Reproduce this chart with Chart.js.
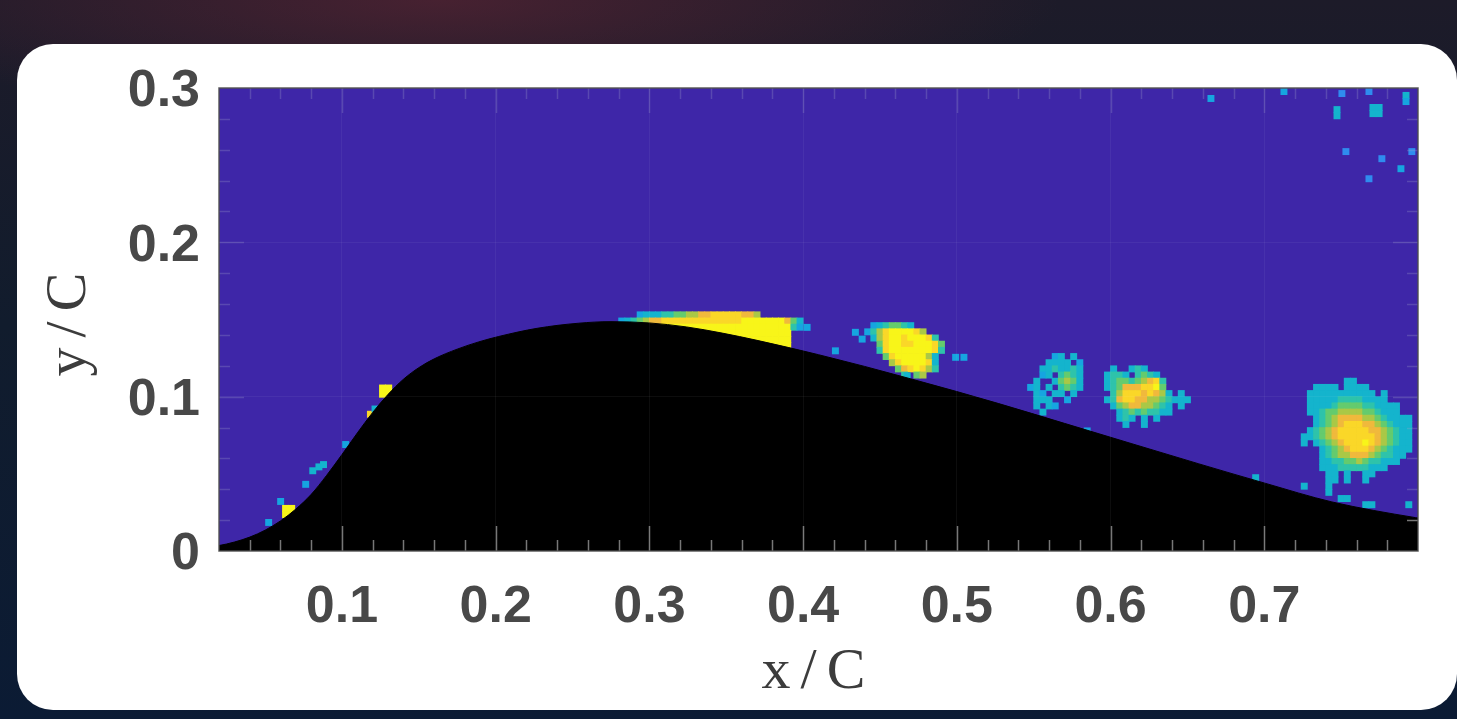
<!DOCTYPE html>
<html>
<head>
<meta charset="utf-8">
<title>Hump flow field</title>
<script src="https://cdn.jsdelivr.net/npm/chart.js@4/dist/chart.umd.min.js"></script>
<style>
  html, body { margin: 0; padding: 0; width: 1457px; height: 719px; overflow: hidden; }
  body {
    position: relative;
    background:
      radial-gradient(ellipse 620px 120px at 440px 0px, rgba(105, 38, 55, 0.55), rgba(105, 38, 55, 0) 100%),
      linear-gradient(180deg, #1d1b29 0%, #111c2d 45%, #0b1b34 100%);
  }
  .card {
    position: absolute; left: 17px; top: 44px; width: 1440px; height: 666px;
    background: #ffffff; border-radius: 36px;
  }
  canvas { position: absolute; left: 0; top: 0; }
</style>
</head>
<body>
<div class="card"></div>
<canvas id="chart" width="1457" height="719"></canvas>
<script>
// Wall surface profile (y/C against x/C)
const surfaceX = [0.0000, 0.0198, 0.0300, 0.0400, 0.0500, 0.0600, 0.0700, 0.0800, 0.0900, 0.1000,
                  0.1100, 0.1200, 0.1300, 0.1400, 0.1500, 0.1600, 0.1750, 0.1890, 0.2020, 0.2270,
                  0.2540, 0.2750, 0.2996, 0.3240, 0.3473, 0.3700, 0.3907, 0.4100, 0.4400, 0.4709,
                  0.5000, 0.5273, 0.5700, 0.6139, 0.6570, 0.7009, 0.7440, 0.7985, 0.8200];
const surfaceY = [0.0015, 0.0035, 0.0058, 0.0090, 0.0135, 0.0195, 0.0272, 0.0367, 0.0490, 0.0625,
                  0.0765, 0.0898, 0.1015, 0.1113, 0.1188, 0.1245, 0.1308, 0.1355, 0.1390, 0.1443,
                  0.1476, 0.1486, 0.1478, 0.1452, 0.1412, 0.1365, 0.1318, 0.1272, 0.1196, 0.1113,
                  0.1033, 0.0955, 0.0827, 0.0695, 0.0566, 0.0438, 0.0318, 0.0216, 0.0185];

// Axis ticks
const xTickValues = [0.1, 0.2, 0.3, 0.4, 0.5, 0.6, 0.7];
const xTickLabels = ['0.1', '0.2', '0.3', '0.4', '0.5', '0.6', '0.7'];
const yTickValues = [0, 0.1, 0.2, 0.3];
const yTickLabels = ['0', '0.1', '0.2', '0.3'];

// Field patches on a 0.004 C grid. Each string is one row of cells, top row first,
// starting at the patch origin; '.' = no signal, '1'..'9' = intensity level.
const cellSize = 0.004;
const patchX0 = [0.282, 0.442, 0.548, 0.598, 0.726];
const patchY0 = [0.153, 0.146, 0.126, 0.118, 0.110];

const patchCrest = [
  '...23334455667788888776.......',
  '234567788888888888889999999753',
  '999999999999999999999999999942',
  '9999999999999999999999999999..',
  '9999999999999999999999999999..',
  '9999999999999999999999999999..',
  '9999999999999999999999999999..'
];
const patchMid = [
  '.2345543.....',
  '2468999986...',
  '.36899899984.',
  '..58998899985',
  '..48999999984',
  '...589999963.',
  '....68999983.',
  '.....5789864.',
  '......4.56...'
];
const patchAft1 = [
  '....23.3.',
  '...3333.2',
  '..3343343',
  '..23.4543',
  '.3..35653',
  '23.3.4543',
  '.32.33.3.',
  '.333..2..',
  '.3.32....',
  '..3......'
];
const patchAft2 = [
  '.3..343.......',
  '3443.4543.....',
  '3455456784....',
  '3457778895....',
  '.4688878763.3.',
  '34788776654333',
  '.3567766543.3.',
  '..345454433...',
  '..343.3.3.....',
  '...3..3.......'
];
const patchWake = [
  '.......33.........',
  '..3333.3333.......',
  '.33333333333.3....',
  '.3333344443333....',
  '.333345555443333..',
  '.334556666554333..',
  '..3456777766543333',
  '..3456788877654333',
  '.34567888887765433',
  '334567888888765433',
  '3.3456788898765433',
  '...345678887654333',
  '...34566777654433.',
  '...3344556544333..',
  '...33344444333....',
  '....33.3..33......',
  '....33.3..3.......',
  '3...3.............',
  '....3.............',
  '......33..........',
  '..........33.....3'
];
const patches = [patchCrest, patchMid, patchAft1, patchAft2, patchWake];

// Isolated cells
const dotX = [0.0633, 0.0673, 0.0633, 0.0673, 0.1264, 0.1304, 0.1264, 0.1304, 0.1185, 0.1215,
              0.0523, 0.0601, 0.0764, 0.0810, 0.0850, 0.0880, 0.1024,
              0.4026, 0.4340, 0.4384, 0.4210, 0.4992, 0.5046, 0.4677, 0.5848, 0.6944,
              0.6653, 0.7128, 0.7473, 0.7473, 0.7707, 0.7747, 0.7707, 0.7747, 0.7922, 0.7922,
              0.7505, 0.7681, 0.7531, 0.7765, 0.7889, 0.7681, 0.7960];
const dotY = [0.0276, 0.0276, 0.0236, 0.0236, 0.1056, 0.1056, 0.1016, 0.1016, 0.0886, 0.0920,
              0.0185, 0.0321, 0.0432, 0.0520, 0.0545, 0.0560, 0.0690,
              0.1449, 0.1417, 0.1373, 0.1297, 0.1255, 0.1255, 0.1135, 0.0778, 0.0475,
              0.2932, 0.2977, 0.2860, 0.2820, 0.2874, 0.2874, 0.2834, 0.2834, 0.2952, 0.2912,
              0.2964, 0.2977, 0.2588, 0.2542, 0.2477, 0.2412, 0.2588];
const dotLevel = [9, 9, 9, 9, 9, 9, 9, 9, 8, 3,
                  2, 2, 2, 3, 3, 3, 2,
                  2, 2, 2, 2, 2, 2, 3, 2, 3,
                  2, 2, 3, 3, 3, 3, 3, 3, 3, 2,
                  1, 1, 1, 1, 2, 1, 1];

// Colour for each intensity level 1..9 (blue -> cyan -> green -> yellow)
const levelColors = ['#2f8cef', '#16a5e0', '#14b4cd', '#2ec3aa', '#64cb6e',
                     '#aac846', '#f0b93c', '#fad728', '#f8f519'];

const cells = [];
patches.forEach((rows, p) => {
  rows.forEach((row, r) => {
    [...row].forEach((ch, c) => {
      if (ch === '.') return;
      cells.push({ x: patchX0[p] + c * cellSize, y: patchY0[p] - r * cellSize, v: Number(ch) });
    });
  });
});
dotX.forEach((x, i) => cells.push({ x, y: dotY[i], v: dotLevel[i] }));

const surface = surfaceX.map((x, i) => ({ x, y: surfaceY[i] }));

// Side of one grid cell in pixels, taken from the x scale
function cellRadius(ctx) {
  const s = ctx.chart.scales.x;
  const side = Math.abs(s.getPixelForValue(cellSize) - s.getPixelForValue(0)) + 0.8;
  return side / Math.SQRT2;
}

// Plot background (zero level of the colour map)
const plotBackground = {
  id: 'plotBackground',
  beforeDraw(chart) {
    const { ctx, chartArea: a } = chart;
    ctx.save();
    ctx.fillStyle = '#3e26a8';
    ctx.fillRect(a.left, a.top, a.width, a.height);
    ctx.restore();
  }
};

// Wider glyph spacing for the axis titles, which are drawn after the datasets
const titleSpacing = {
  id: 'titleSpacing',
  afterDatasetsDraw(chart) { chart.ctx.letterSpacing = '10px'; },
  afterDraw(chart) { chart.ctx.letterSpacing = '0px'; }
};

// Inward major/minor tick marks on all four sides plus the axes box
const boxTicks = {
  id: 'boxTicks',
  afterDraw(chart) {
    const { ctx, chartArea: a, scales: { x, y } } = chart;
    const majorLen = 25, minorLen = 11;
    const onSurface = 'rgba(170,170,170,0.7)';
    const onField = 'rgba(160,160,200,0.28)';
    ctx.save();
    ctx.beginPath();
    ctx.rect(a.left, a.top, a.width, a.height);
    ctx.clip();
    ctx.lineWidth = 1.5;
    const seg = (color, x1, y1, x2, y2) => {
      ctx.strokeStyle = color;
      ctx.beginPath(); ctx.moveTo(x1, y1); ctx.lineTo(x2, y2); ctx.stroke();
    };
    for (let i = 1; i < 40; i++) {
      const v = i * 0.02;
      if (v <= x.min || v >= x.max) continue;
      const len = i % 5 === 0 ? majorLen : minorLen;
      const px = Math.round(x.getPixelForValue(v)) + 0.5;
      seg(onSurface, px, a.bottom, px, a.bottom - len);
      seg(onField, px, a.top, px, a.top + len);
    }
    for (let i = 1; i < 15; i++) {
      const v = i * 0.02;
      const len = i % 5 === 0 ? majorLen : minorLen;
      const py = Math.round(y.getPixelForValue(v)) + 0.5;
      seg(onField, a.left, py, a.left + len, py);
      seg(v < 0.03 ? onSurface : onField, a.right, py, a.right - len, py);
    }
    ctx.restore();
    ctx.save();
    ctx.strokeStyle = 'rgba(78,78,78,0.9)';
    ctx.lineWidth = 1.5;
    ctx.strokeRect(a.left, a.top, a.width, a.height);
    ctx.restore();
  }
};

const tickFont = { family: "'Liberation Sans', Arial, sans-serif", size: 52, weight: 'bold', lineHeight: 1.2 };
const titleFont = { family: "'Liberation Serif', 'Times New Roman', serif", size: 58, lineHeight: 1.2 };

new Chart(document.getElementById('chart'), {
  type: 'scatter',
  data: {
    datasets: [
      {
        type: 'line',
        label: 'surface',
        data: surface,
        borderColor: '#000000',
        borderWidth: 1,
        backgroundColor: '#000000',
        fill: 'start',
        pointRadius: 0,
        cubicInterpolationMode: 'monotone',
        order: 0
      },
      {
        label: 'field',
        data: cells,
        pointStyle: 'rect',
        pointRadius: cellRadius,
        pointHoverRadius: cellRadius,
        pointBorderWidth: 0,
        pointBackgroundColor: ctx => (ctx.raw ? levelColors[ctx.raw.v - 1] : 'rgba(0,0,0,0)'),
        order: 1
      }
    ]
  },
  options: {
    responsive: false,
    devicePixelRatio: 1,
    animation: false,
    events: [],
    layout: { padding: { left: 0, top: 88, right: 39, bottom: 0 } },
    plugins: { legend: { display: false }, tooltip: { enabled: false } },
    scales: {
      x: {
        type: 'linear',
        min: 0.02,
        max: 0.8,
        bounds: 'data',
        afterBuildTicks: s => { s.ticks = xTickValues.map(value => ({ value })); },
        afterFit: s => { s.height = 168; },
        ticks: {
          autoSkip: false, maxRotation: 0, padding: 25, color: '#484848', font: tickFont,
          callback: (v, i) => xTickLabels[i]
        },
        grid: { color: 'rgba(255,255,255,0.05)', lineWidth: 1, drawTicks: false, z: 1 },
        border: { display: false },
        title: { display: true, text: 'x/C', color: '#3c3c3c', font: titleFont, padding: { top: 0, bottom: 11 } }
      },
      y: {
        type: 'linear',
        min: 0,
        max: 0.3,
        bounds: 'data',
        afterBuildTicks: s => { s.ticks = yTickValues.map(value => ({ value })); },
        afterFit: s => { s.width = 219; },
        ticks: {
          autoSkip: false, padding: 19, labelOffset: 4, color: '#484848', font: tickFont,
          callback: (v, i) => yTickLabels[i]
        },
        grid: { color: 'rgba(255,255,255,0.05)', lineWidth: 1, drawTicks: false, z: 1 },
        border: { display: false },
        title: { display: true, text: 'y/C', color: '#3c3c3c', font: titleFont, padding: { top: 35, bottom: 0 } }
      }
    }
  },
  plugins: [plotBackground, titleSpacing, boxTicks]
});
</script>
</body>
</html>
